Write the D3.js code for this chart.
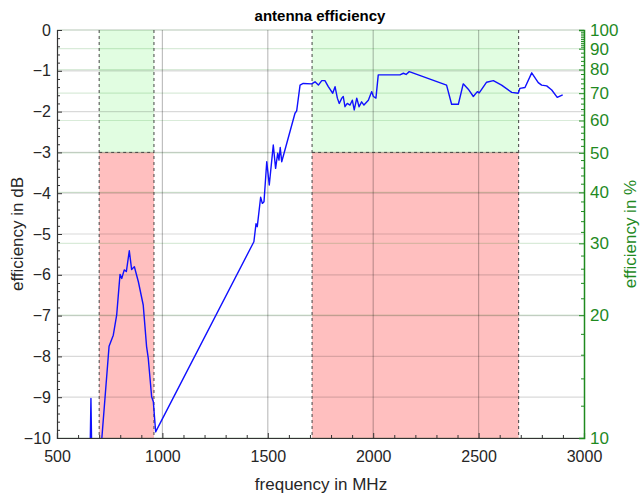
<!DOCTYPE html>
<html>
<head>
<meta charset="utf-8">
<script src="https://cdn.jsdelivr.net/npm/d3@7"></script>
<style>
  body { margin: 0; background: #fff; }
  svg { display: block; font-family: "Liberation Sans", Arial, sans-serif; }
</style>
</head>
<body>
<svg id="chart" width="640" height="496"></svg>
<script>
// Measured antenna efficiency (frequency in MHz, efficiency in dB)
const freqMHz = [640, 652, 661, 671, 690, 747, 767, 783, 799, 807, 819, 829, 843, 854, 867, 873, 886, 909, 925, 933, 949, 957, 968,
  1434, 1444, 1450, 1466, 1474, 1482, 1495, 1507, 1526, 1537, 1547, 1553, 1559, 1566, 1629, 1637, 1653, 1668, 1708,
  1724, 1740, 1756, 1771, 1787, 1808, 1819, 1830, 1839, 1851, 1858, 1866, 1877, 1890, 1901, 1910, 1922, 1933, 1945, 1956,
  1977, 1993, 2001, 2013, 2024, 2127, 2143, 2156, 2171, 2348, 2372, 2404, 2427, 2451, 2475, 2494, 2503, 2538, 2570,
  2609, 2657, 2688, 2696, 2720, 2752, 2783, 2799, 2823, 2847, 2873, 2899];
const efficiencyDb = [-12, -12, -9.03, -12.5, -11.5, -7.75, -7.48, -6.99, -5.99, -6.09, -5.88, -5.92, -5.41, -5.87, -5.80, -5.92, -6.17, -6.74, -7.76, -8.05, -8.99, -9.11, -9.85,
  -5.19, -4.75, -4.82, -4.10, -4.25, -4.21, -3.23, -3.80, -2.82, -3.39, -3.02, -3.19, -2.88, -3.23, -2.04, -1.98, -1.35, -1.31, -1.32,
  -1.27, -1.35, -1.24, -1.24, -1.39, -1.55, -1.39, -1.67, -1.80, -1.67, -1.63, -1.88, -1.80, -1.84, -1.72, -1.96, -1.67, -1.88, -1.76, -1.84,
  -1.72, -1.51, -1.63, -1.67, -1.10, -1.10, -1.06, -1.09, -1.02, -1.35, -1.82, -1.82, -1.32, -1.45, -1.63, -1.51, -1.54, -1.28, -1.24,
  -1.35, -1.53, -1.55, -1.43, -1.41, -1.05, -1.29, -1.35, -1.37, -1.47, -1.65, -1.59];

// Frequency bands of interest [start, end] in MHz, and the -3 dB target line
const bands = [[700, 960], [1710, 2690]];
const targetDb = -3;

// Tick values
const freqTicks = [500, 1000, 1500, 2000, 2500, 3000];
const dbTicks = [0, -1, -2, -3, -4, -5, -6, -7, -8, -9, -10];
const pctTicks = [10, 20, 30, 40, 50, 60, 70, 80, 90, 100];
const pctMinorTicks = [12, 14, 16, 18, 22, 24, 26, 28, 32, 34, 36, 38, 42, 44, 46, 48, 52, 54, 56, 58,
  62, 64, 66, 68, 72, 74, 76, 78, 82, 84, 86, 88, 91, 92, 93, 94, 95, 96, 97, 98, 99];

const svg = d3.select("#chart");
const m = { left: 57, right: 56, top: 30, bottom: 58 };
const W = 640, H = 496;
const x = d3.scaleLinear().domain([500, 3000]).range([m.left, W - m.right]);
const y = d3.scaleLinear().domain([-10, 0]).range([H - m.bottom, m.top]);
// percent axis: 10*log10(p/100) dB maps onto the same pixel range
const yPct = d3.scaleLog().domain([10, 100]).range([H - m.bottom, m.top]);

const green = "#1f8a1f";
const textCol = "#262626";

svg.append("defs").append("clipPath").attr("id", "plotClip")
  .append("rect").attr("x", x(500)).attr("y", y(0)).attr("width", x(3000) - x(500)).attr("height", y(-10) - y(0));

// band shading: green above target, red below
const bandG = svg.append("g");
bands.forEach(([a, b]) => {
  bandG.append("rect").attr("x", x(a)).attr("y", y(0)).attr("width", x(b) - x(a)).attr("height", y(targetDb) - y(0))
    .attr("fill", "#e1fde1");
  bandG.append("rect").attr("x", x(a)).attr("y", y(targetDb)).attr("width", x(b) - x(a)).attr("height", y(-10) - y(targetDb))
    .attr("fill", "#ffbfbf");
});

// grid
const grid = svg.append("g");
grid.selectAll(".gdb").data(dbTicks).join("line")
  .attr("x1", x(500)).attr("x2", x(3000)).attr("y1", d => y(d)).attr("y2", d => y(d))
  .attr("stroke", "rgba(0,0,0,0.15)").attr("stroke-width", 1.2);
grid.selectAll(".gpct").data(pctTicks).join("line")
  .attr("x1", x(500)).attr("x2", x(3000)).attr("y1", d => yPct(d)).attr("y2", d => yPct(d))
  .attr("stroke", "rgba(0,120,0,0.15)").attr("stroke-width", 1.2);
grid.selectAll(".gx").data(freqTicks.slice(1, -1)).join("line")
  .attr("x1", d => x(d)).attr("x2", d => x(d)).attr("y1", y(0)).attr("y2", y(-10))
  .attr("stroke", "rgba(0,0,0,0.25)").attr("stroke-width", 1.2);

// band borders (dashed)
const dashG = svg.append("g").attr("stroke", "#444").attr("stroke-width", 1).attr("stroke-dasharray", "3,3").attr("fill", "none");
bands.forEach(([a, b]) => {
  [a, b].forEach(f => dashG.append("line").attr("x1", x(f)).attr("x2", x(f)).attr("y1", y(0)).attr("y2", y(-10)));
  dashG.append("line").attr("x1", x(a)).attr("x2", x(b)).attr("y1", y(targetDb)).attr("y2", y(targetDb));
});

// data line
const line = d3.line().x((d, i) => x(freqMHz[i])).y(d => y(d));
svg.append("path").datum(efficiencyDb).attr("clip-path", "url(#plotClip)")
  .attr("d", line).attr("fill", "none").attr("stroke", "#1010ff").attr("stroke-width", 1.4).attr("stroke-linejoin", "round");

// bottom axis
const xAxis = svg.append("g").attr("transform", `translate(0,${y(-10)})`)
  .call(d3.axisBottom(x).tickValues(freqTicks).tickSize(-5).tickPadding(13).tickFormat(d3.format("d")));
xAxis.select(".domain").attr("stroke", "#333").attr("stroke-width", 1.2);
xAxis.selectAll(".tick line").attr("stroke", "#333");
xAxis.selectAll("text").attr("font-size", 16).attr("fill", textCol);
svg.append("g").attr("transform", `translate(0,${y(-10)})`)
  .call(d3.axisBottom(x).tickValues(d3.range(600, 3000, 100).filter(v => v % 500)).tickSize(-3).tickFormat(""))
  .call(g => g.select(".domain").remove())
  .selectAll("line").attr("stroke", "#333");

// left axis
const yAxis = svg.append("g").attr("transform", `translate(${x(500)},0)`)
  .call(d3.axisLeft(y).tickValues(dbTicks).tickSize(-5).tickPadding(6).tickFormat(d3.format("d")));
yAxis.select(".domain").attr("stroke", "#333").attr("stroke-width", 1.2);
yAxis.selectAll(".tick line").attr("stroke", "#333");
yAxis.selectAll("text").attr("font-size", 16).attr("fill", textCol);
svg.append("g").attr("transform", `translate(${x(500)},0)`)
  .call(d3.axisLeft(y).tickValues(d3.range(-9.8, 0, 0.2).filter(v => Math.abs(v - Math.round(v)) > 0.01)).tickSize(-3).tickFormat(""))
  .call(g => g.select(".domain").remove())
  .selectAll("line").attr("stroke", "#333");

// right axis (percent)
const rAxis = svg.append("g").attr("transform", `translate(${x(3000)},0)`)
  .call(d3.axisRight(yPct).tickValues(pctTicks).tickSize(-5).tickPadding(6).tickFormat(d3.format("d")));
rAxis.select(".domain").attr("stroke", green).attr("stroke-width", 1.5);
rAxis.selectAll(".tick line").attr("stroke", green);
rAxis.selectAll("text").attr("font-size", 17).attr("fill", green);
svg.append("g").attr("transform", `translate(${x(3000)},0)`)
  .call(d3.axisRight(yPct).tickValues(pctMinorTicks).tickSize(-3).tickFormat(""))
  .call(g => g.select(".domain").remove())
  .selectAll("line").attr("stroke", green);

// titles
svg.append("text").attr("x", 320).attr("y", 21).attr("text-anchor", "middle")
  .attr("font-size", 15).attr("font-weight", "bold").attr("fill", "#000").text("antenna efficiency");
svg.append("text").attr("x", 321).attr("y", 490).attr("text-anchor", "middle")
  .attr("font-size", 17).attr("fill", textCol).text("frequency in MHz");
svg.append("text").attr("transform", `translate(23,${(y(0) + y(-10)) / 2}) rotate(-90)`).attr("text-anchor", "middle")
  .attr("font-size", 17).attr("fill", textCol).text("efficiency in dB");
svg.append("text").attr("transform", `translate(636,${(y(0) + y(-10)) / 2}) rotate(-90)`).attr("text-anchor", "middle")
  .attr("font-size", 17).attr("fill", green).text("efficiency in %");
</script>
</body>
</html>
